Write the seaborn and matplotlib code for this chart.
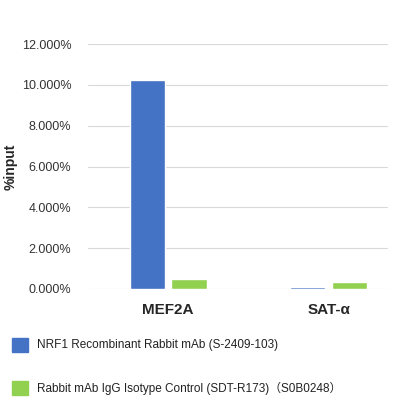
import matplotlib
matplotlib.use("Agg")
import matplotlib.pyplot as plt
import seaborn as sns
import pandas as pd
from matplotlib.patches import Rectangle
from matplotlib.ticker import FuncFormatter

categories = ["MEF2A", "SAT-α"]
series_names = ["NRF1 Recombinant Rabbit mAb (S-2409-103)",
                "Rabbit mAb IgG Isotype Control (SDT-R173)（S0B0248）"]
nrf1_values = [10.25, 0.10]
igg_values = [0.50, 0.35]
yticks = [0, 2, 4, 6, 8, 10, 12]

colors = ["#4472C4", "#92D050"]

df = pd.DataFrame({
    "target": categories * 2,
    "value": nrf1_values + igg_values,
    "series": [series_names[0]] * 2 + [series_names[1]] * 2,
})

sns.set_style("white")
plt.rcParams['font.family'] = ['Liberation Sans', 'Noto Sans CJK SC', 'DejaVu Sans']

fig = plt.figure(figsize=(4.16, 4.17), dpi=100)
ax = fig.add_axes([0.2115, 0.307, 0.721, 0.587])
sns.barplot(data=df, x="target", y="value", hue="series", palette=colors,
            width=0.52, gap=0.15, ax=ax, legend=False, saturation=1)
ax.set_xlim(-0.5, 1.37)
ax.set_ylim(0, 12)
ax.set_yticks(yticks)
ax.yaxis.set_major_formatter(FuncFormatter(lambda v, p: f"{v:.3f}%"))
ax.grid(axis="y", color="#d9d9d9", linewidth=0.8)
ax.set_axisbelow(True)
for s in ax.spines.values():
    s.set_visible(False)
ax.tick_params(axis="y", length=0, labelsize=9, labelcolor="#333333", pad=12)
ax.tick_params(axis="x", length=0, labelsize=11, pad=10)
for t in ax.get_xticklabels():
    t.set_fontweight("bold")
ax.set_xlabel("")
ax.set_ylabel("%input", fontsize=10, fontweight="bold")
ax.yaxis.set_label_coords(-0.235, 0.5)

for i, (name, c) in enumerate(zip(series_names, colors)):
    y = 1 - (345 + 43 * i) / 417
    fig.patches.append(Rectangle((12 / 416, y - 7 / 417), 16 / 416, 14 / 417,
                                 transform=fig.transFigure, color=c))
    fig.text(37 / 416, y, name, fontsize=8.5, va="center", color="#222222")

fig.savefig("out.png", dpi=100)
